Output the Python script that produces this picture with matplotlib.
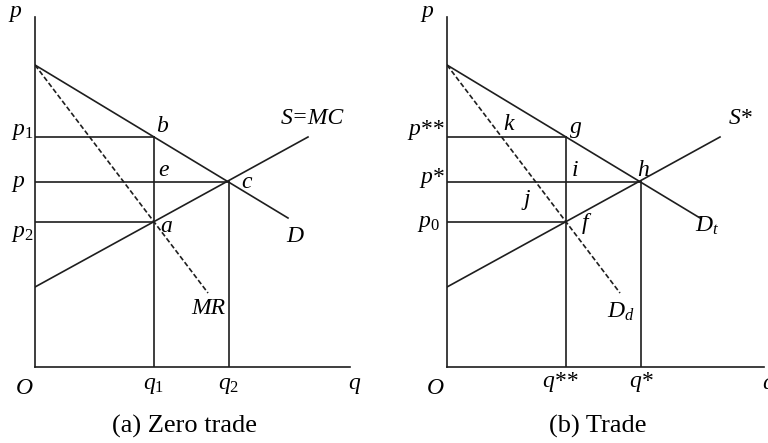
import matplotlib.pyplot as plt

plt.rcParams['font.family'] = ['Liberation Serif', 'DejaVu Serif']
plt.rcParams['mathtext.fontset'] = 'custom'
plt.rcParams['mathtext.rm'] = 'Liberation Serif'
plt.rcParams['mathtext.it'] = 'Liberation Serif:italic'

# curve end points (q, p)
demand_q = [0, 253]
demand_p = [302, 149]
supply_q = [0, 273]
supply_p = [80, 230]
mr_q = [0, 173]
mr_p = [302, 74]

# quantities and prices marked on the axes
q_low, q_high = 119, 194
p_high, p_mid, p_low = 230, 185, 145

LC = '#1e1e1e'
LW = 1.2


def draw_panel(ax, xmax, labels, axis_labels, caption):
    ax.set_xlim(0, xmax)
    ax.set_ylim(0, 350)
    ax.axis('off')
    ax.plot([0, 0], [0, 350], color=LC, lw=LW, clip_on=False)
    ax.plot([0, xmax], [0, 0], color=LC, lw=LW, clip_on=False)
    ax.plot(demand_q, demand_p, color=LC, lw=LW)
    ax.plot(supply_q, supply_p, color=LC, lw=LW)
    ax.plot(mr_q, mr_p, color=LC, lw=LW, linestyle=(0, (3.0, 1.5)))
    # price lines
    ax.plot([0, q_low], [p_high, p_high], color=LC, lw=LW)
    ax.plot([0, q_high], [p_mid, p_mid], color=LC, lw=LW)
    ax.plot([0, q_low], [p_low, p_low], color=LC, lw=LW)
    # quantity lines
    ax.plot([q_low, q_low], [0, p_high], color=LC, lw=LW)
    ax.plot([q_high, q_high], [0, p_mid], color=LC, lw=LW)
    for x, y, s in labels + axis_labels:
        ax.text(x, y, s, fontsize=17, style='italic', ha='center',
                va='center', clip_on=False)
    ax.text(xmax / 2 - 8, -59, caption, fontsize=19, ha='center',
            va='center', clip_on=False)


fig = plt.figure(figsize=(7.68, 4.43), dpi=100)

# (a) 無貿易
ax1 = fig.add_axes([35 / 768, 76 / 443, 315 / 768, 350 / 443])
labels_a = [
    (127, 241, 'b'), (129, 196, 'e'), (212, 185, 'c'), (131, 140, 'a'),
    (277, 248, 'S=MC'), (260, 130, 'D'), (173, 58, 'MR'),
]
axis_a = [
    (-20, 356, 'p'), (-13, 235, '$p_1$'), (-17, 185, 'p'),
    (-13, 134, '$p_2$'), (-11, -21, 'O'), (q_low, -19, '$q_1$'),
    (q_high, -19, '$q_2$'), (319, -17, 'q'),
]
draw_panel(ax1, 315, labels_a, axis_a, '(a) Zero trade')

# (b) 貿易
ax2 = fig.add_axes([447 / 768, 76 / 443, 317 / 768, 350 / 443])
labels_b = [
    (62, 242, 'k'), (129, 240, 'g'), (128, 196, 'i'), (196, 197, 'h'),
    (80, 168, 'j'), (138, 144, 'f'), (294, 248, 'S*'),
    (260, 141, '$D_t$'), (174, 55, '$D_d$'),
]
axis_b = [
    (-20, 355, 'p'), (-21, 237, 'p**'), (-15, 189, 'p*'),
    (-19, 143, '$p_0$'), (-12, -22, 'O'), (113, -15, 'q**'),
    (194, -15, 'q*'), (321, -17, 'q'),
]
draw_panel(ax2, 317, labels_b, axis_b, '(b) Trade')

fig.savefig('out.png', dpi=100)
